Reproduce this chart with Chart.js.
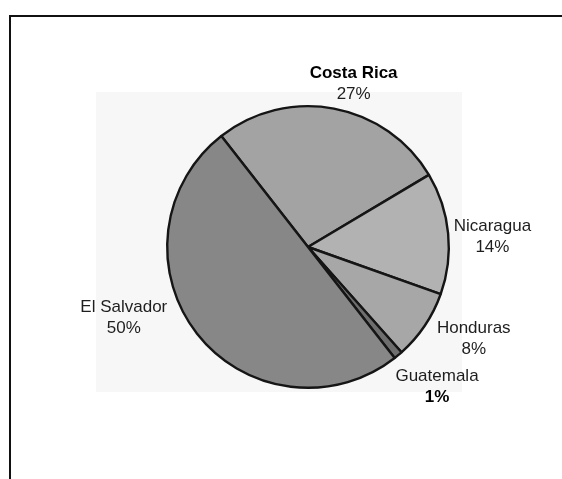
<!DOCTYPE html>
<html>
<head>
<meta charset="utf-8">
<script src="https://cdn.jsdelivr.net/npm/chart.js@4.4.1/dist/chart.umd.min.js"></script>
<style>
  html, body { margin: 0; padding: 0; background: #fff; }
  #wrap { position: relative; width: 562px; height: 479px; overflow: hidden; background: #fff; }
  #frame { position: absolute; left: 9px; top: 15px; width: 600px; height: 520px;
           border-left: 2px solid #111; border-top: 2px solid #111; box-sizing: border-box; }
  #shade { position: absolute; left: 96px; top: 92px; width: 366px; height: 300px;
           background: #f7f7f7; }
  canvas { position: absolute; left: 0; top: 0; }
</style>
</head>
<body>
<div id="wrap">
  <div id="shade"></div>
  <div id="frame"></div>
  <canvas id="c" width="562" height="479"></canvas>
</div>
<script>
// ---- data ----
const categories = ["Costa Rica", "Nicaragua", "Honduras", "Guatemala", "El Salvador"];
const shares = [27, 14, 8, 1, 50];
const pctLabels = ["27%", "14%", "8%", "1%", "50%"];

// ---- styles ----
const sliceColors = ["#a3a3a3", "#b2b2b2", "#a7a7a7", "#6e6e6e", "#878787"];
const nameBold = [true, false, false, false, false];
const pctBold = [false, false, false, true, false];
// label placement relative to each slice: [angle shift in degrees, distance beyond the rim]
const labelShift = [[4.9, 30], [1.9, 44], [-5.4, 48], [-3.3, 48], [17.4, 56]];

const labelPlugin = {
  id: 'sliceLabels',
  afterDraw(chart) {
    const ctx = chart.ctx;
    const arcs = chart.getDatasetMeta(0).data;
    ctx.save();
    ctx.textAlign = 'center';
    ctx.textBaseline = 'alphabetic';
    arcs.forEach((arc, i) => {
      const p = arc.getProps(['x', 'y', 'startAngle', 'endAngle', 'outerRadius'], true);
      const mid = (p.startAngle + p.endAngle) / 2 + labelShift[i][0] * Math.PI / 180;
      const d = p.outerRadius + labelShift[i][1];
      const lx = p.x + Math.cos(mid) * d;
      const ly = p.y + Math.sin(mid) * d;
      ctx.fillStyle = nameBold[i] ? '#000' : '#1e1e1e';
      ctx.font = (nameBold[i] ? 'bold ' : '') + '17px "Liberation Sans", Arial, sans-serif';
      ctx.fillText(categories[i], lx, ly - 4);
      ctx.fillStyle = pctBold[i] ? '#000' : '#1e1e1e';
      ctx.font = (pctBold[i] ? 'bold ' : '') + '17px "Liberation Sans", Arial, sans-serif';
      ctx.fillText(pctLabels[i], lx, ly + 17);
    });
    ctx.restore();
  }
};

new Chart(document.getElementById('c'), {
  type: 'pie',
  data: {
    labels: categories,
    datasets: [{
      data: shares,
      backgroundColor: sliceColors,
      borderColor: '#151515',
      borderWidth: 2.4,
      hoverOffset: 0
    }]
  },
  options: {
    responsive: false,
    animation: false,
    rotation: -38,
    layout: { padding: { left: 166, right: 112, top: 105, bottom: 90 } },
    plugins: {
      legend: { display: false },
      tooltip: { enabled: false },
      title: { display: false }
    }
  },
  plugins: [labelPlugin]
});
</script>
</body>
</html>
